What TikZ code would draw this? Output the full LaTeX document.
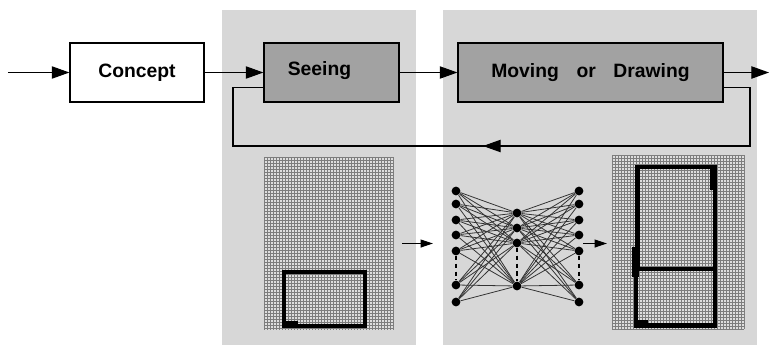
\documentclass[tikz,border=0pt]{standalone}
\usepackage{fontspec}
\setmainfont{Liberation Sans}
\usetikzlibrary{arrows.meta}

\definecolor{panelgray}{RGB}{215,215,215}
\definecolor{boxgray}{RGB}{162,162,162}
\definecolor{gridfill}{RGB}{222,222,222}
\definecolor{gridline}{RGB}{125,125,125}

\begin{document}
\begin{tikzpicture}[
            x = 0.02cm, y = -0.02cm,
            every node/.style = {font = \bfseries\fontsize{11}{13}\selectfont},
            block/.style = {draw, line width = 0.7pt, minimum height = 1.18cm, inner sep = 0pt},
            flow/.style = {line width = 0.6pt, -{Triangle[length = 10pt, width = 7pt]}},
            small flow/.style = {line width = 0.6pt, -{Triangle[length = 7pt, width = 4.5pt]}},
            loop/.style = {line width = 0.6pt},
            neuron/.style = {circle, fill = black, inner sep = 0pt, minimum size = 0.175cm},
            wire/.style = {line width = 0.45pt, black!80},
            gap/.style = {dash pattern = on 2.5pt off 2pt, line width = 0.7pt},
            mark line/.style = {line width = 2.3pt}
            ]
            \useasboundingbox (0,0) rectangle (769,345);

            % panels
            \fill[panelgray] (222,10) rectangle (416,345);
            \fill[panelgray] (443,10) rectangle (757,345);

            % upper chain
            \node[block, fill = white, minimum width = 2.68cm] (concept) at (137,72.5) {Concept};
            \node[block, fill = boxgray, minimum width = 2.7cm] (seeing) at (331.5,72.5) {};
            \node (seeingtxt) at (319.5,71) {Seeing};
            \node[block, fill = boxgray, minimum width = 5.3cm] (moving) at (590.5,72.5)
                 {Moving\hspace{10pt}or\hspace{10pt}Drawing};

            \coordinate (in) at (8,72.5);
            \coordinate (out) at (769,72.5);
            \draw[flow] (in) -- (concept);
            \draw[flow] (concept) -- (seeing);
            \draw[flow] (seeing) -- (moving);
            \draw[flow] (moving) -- (out);

            % feedback
            \coordinate (fbright) at (750,146);
            \coordinate (fbleft) at (233,146);
            \coordinate (fbtip) at (483,146);
            \draw[loop] ([yshift = -0.3cm] moving.east) -| (fbright) -- (fbleft)
                        |- ([yshift = -0.3cm] seeing.west);
            \draw[flow] (fbright) -- (fbtip);

            % seen image
            \fill[gridfill] (264,157) rectangle (394,330);
            \foreach \gx in {264,267,...,394}
                \draw[gridline, line width = 0.25pt] (\gx,157) -- (\gx,330);
            \foreach \gy in {157,160,...,330}
                \draw[gridline, line width = 0.25pt] (264,\gy) -- (394,\gy);
            \draw[mark line] (284,272) rectangle (365,326);
            \fill (282,321) rectangle (298,328);

            % network
            \foreach \i/\yy in {1/191,2/204,3/220,4/235,5/251,6/285,7/302}
                {
                \node[neuron] (l\i) at (456,\yy) {};
                \node[neuron] (r\i) at (579,\yy) {};
                }
            \foreach \j/\yy in {1/213,2/228,3/243,4/286}
                \node[neuron] (m\j) at (517,\yy) {};
            \foreach \i in {1,...,7}
                \foreach \j in {1,...,4}
                    {
                    \draw[wire] (l\i) -- (m\j);
                    \draw[wire] (m\j) -- (r\i);
                    }
            \draw[gap] (l5) -- (l6);
            \draw[gap] (m3) -- (m4);
            \draw[gap] (r5) -- (r6);

            \coordinate (seenout) at (402,243.5);
            \coordinate (netin) at (433,243.5);
            \coordinate (netout) at (583,243.5);
            \coordinate (drawnin) at (607,243.5);
            \draw[small flow] (seenout) -- (netin);
            \draw[small flow] (netout) -- (drawnin);

            % drawn image
            \fill[gridfill] (612,155) rectangle (744,329);
            \foreach \gx in {612,615,...,744}
                \draw[gridline, line width = 0.25pt] (\gx,155) -- (\gx,329);
            \foreach \gy in {155,158,...,329}
                \draw[gridline, line width = 0.25pt] (612,\gy) -- (744,\gy);
            \draw[mark line] (637.5,269) -- (637.5,167) -- (715,167) -- (715,325.5)
                             -- (636,325.5) -- (636,269) -- (715,269);
            \fill (632,247) rectangle (639,277);
            \fill (710,165) rectangle (717,190);
            \fill (634,320) rectangle (648,328);
          \end{tikzpicture}
\end{document}
